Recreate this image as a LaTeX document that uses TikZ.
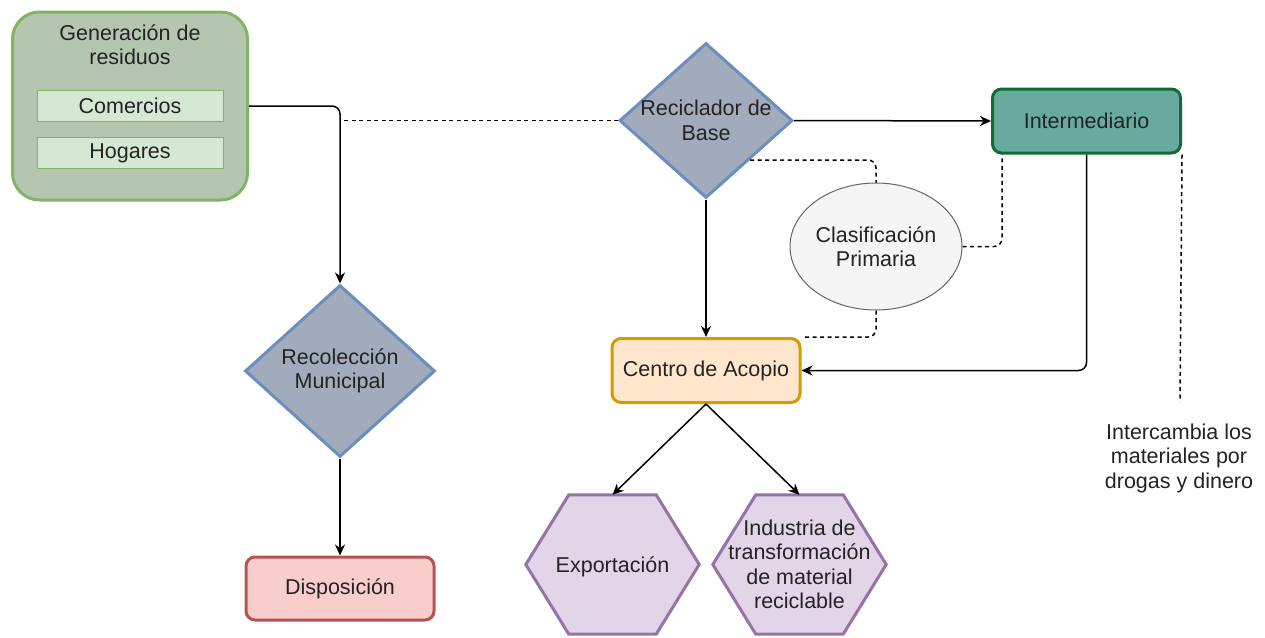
\documentclass[tikz,border=0pt]{standalone}
\usepackage{fontspec}
\setmainfont{Liberation Sans}
\usetikzlibrary{shapes.geometric,arrows.meta,calc,backgrounds}

\definecolor{txtcol}{RGB}{35,35,35}
\definecolor{genfill}{RGB}{181,198,176}
\definecolor{greenline}{RGB}{130,179,102}
\definecolor{subfill}{RGB}{213,232,212}
\definecolor{diafill}{RGB}{161,171,187}
\definecolor{blueline}{RGB}{108,142,191}
\definecolor{intfill}{RGB}{103,171,159}
\definecolor{intline}{RGB}{16,108,52}
\definecolor{ellfill}{RGB}{245,245,245}
\definecolor{ellline}{RGB}{102,102,102}
\definecolor{orfill}{RGB}{255,230,204}
\definecolor{orline}{RGB}{215,155,0}
\definecolor{redfill}{RGB}{248,206,204}
\definecolor{redline}{RGB}{184,84,80}
\definecolor{hexfill}{RGB}{225,213,231}
\definecolor{hexline}{RGB}{150,115,166}

\begin{document}
\begin{tikzpicture}[x=1pt,y=-1pt,
  every node/.style={font=\fontsize{21.5}{24.5}\selectfont, text=txtcol},
  genbox/.style={draw=greenline, fill=genfill, line width=3pt, rounded corners=27pt,
    minimum width=235pt, minimum height=188pt, inner sep=0pt},
  subbox/.style={draw=greenline, fill=subfill, line width=1pt,
    minimum width=186pt, minimum height=31pt, inner sep=0pt},
  dia/.style={shape=diamond, draw=blueline, fill=diafill, line width=3pt, inner sep=0pt},
  roundbox/.style={rounded corners=9pt, line width=3pt, minimum width=188pt,
    minimum height=64pt, inner sep=0pt},
  hexnode/.style={minimum width=173pt, minimum height=139pt, inner sep=0pt, align=center},
  hexshape/.style={draw=hexline, fill=hexfill, line width=3pt, line join=miter},
  conn/.style={draw=black, line width=1.5pt, rounded corners=8pt},
  arrowed/.style={conn, -{Stealth[length=11pt,width=10pt,inset=3.5pt]}},
  dashline/.style={conn, dash pattern=on 4pt off 3.5pt}
]
\useasboundingbox (0,0) rectangle (1265,637);

% waste generation group
\node[genbox] (gen) at (130,106) {};
\node[align=center] (gentitle) at (130,44.5) {Generación de\\residuos};
\node[subbox] (com) at (130,105.5) {Comercios};
\node[subbox] (hog) at (130,153) {Hogares};

% decision-style nodes
\node[dia, minimum width=173pt, minimum height=155pt,
  label={[align=center]center:Reciclador de\\Base}] (rb) at (706,120.5) {};
\node[dia, minimum width=190pt, minimum height=172pt,
  label={[align=center]center:Recolección\\Municipal}] (rec) at (340,371) {};

% process boxes
\node[roundbox, draw=intline, fill=intfill] (int) at (1086.5,121) {Intermediario};
\node[roundbox, draw=orline, fill=orfill] (ca) at (706,370.5) {Centro de Acopio};
\node[roundbox, draw=redline, fill=redfill, minimum height=63pt] (disp) at (340,588.5) {Disposición};

% primary sorting
\node[ellipse, draw=ellline, fill=ellfill, line width=1pt, inner sep=0pt,
  minimum width=172pt, minimum height=127pt,
  label={[align=center]center:Clasificación\\Primaria}] (cl) at (876,246.5) {};

% end destinations (hexagons)
\node[hexnode, text depth=-4pt] (exp) at (612.5,564.5) {Exportación};
\node[hexnode] (ind) at (799.5,564.5) {Industria de\\transformación\\de material\\reciclable};
\begin{scope}[on background layer]
  \foreach \h in {exp,ind}{
    \path[hexshape] (\h.west) -- ($(\h.north west)+(43,0)$) -- ($(\h.north east)+(-43,0)$)
      -- (\h.east) -- ($(\h.south east)+(-43,0)$) -- ($(\h.south west)+(43,0)$) -- cycle;
  }
\end{scope}

% side note
\node[align=center] (nota) at (1179,458) {Intercambia los\\materiales por\\drogas y dinero};
\coordinate (notaend) at (1180,402);

% connectors
\draw[arrowed] (gen.east) -| (rec.north);
\draw[dashline] (rb.west) -- (rb.west -| rec.north);
\draw[arrowed] (rb.east) -- (int.west);
\draw[arrowed] (rb.south) -- (ca.north);
\draw[dashline] (rb.south east) -| (cl.north);
\draw[dashline] (cl.east) -| ($(int.south west)+(11,0)$);
\draw[dashline] (cl.south) |- (ca.north east);
\draw[arrowed] (int.south) |- (ca.east);
\draw[dashline] (int.south east) -- (notaend);
\draw[arrowed] (ca.south) -- (exp.north);
\draw[arrowed] (ca.south) -- (ind.north);
\draw[arrowed] (rec.south) -- (disp.north);
\end{tikzpicture}
\end{document}
